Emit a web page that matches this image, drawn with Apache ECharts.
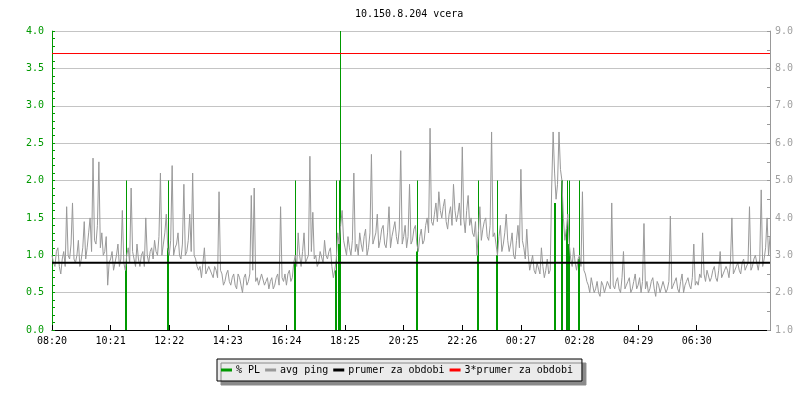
<!DOCTYPE html>
<html>
<head>
<meta charset="utf-8">
<script src="https://cdn.jsdelivr.net/npm/echarts@6/dist/echarts.min.js"></script>
<style>html,body{margin:0;padding:0;background:#fff}#c{width:800px;height:400px}</style>
</head>
<body>
<div id="c"></div>
<script>
// ---- data ----
const titleText = '10.150.8.204 vcera';
const tickLabels = ['08:20','10:21','12:22','14:23','16:24','18:25','20:25','22:26','00:27','02:28','04:29','06:30'];
const samplesPerTick = 40;
// avg ping (right axis), one value per sample
const pingValues = [
  3.0,2.8, 2.7,3.1, 3.2,2.7, 2.5,2.9, 3.1,2.7, 4.3,3.0, 2.9,3.3, 4.4,2.9, 2.8,3.0, 3.4,2.7,
  2.9,3.2, 3.9,2.9, 3.2,3.6, 4.0,3.1, 5.6,3.4, 3.3,3.8, 5.5,3.2, 3.6,3.0, 3.1,3.5, 2.2,2.8,
  2.9,3.1, 2.6,2.8, 3.0,3.3, 2.7,2.9, 4.2,2.8, 2.6,3.0, 3.2,2.8, 4.8,3.1, 2.9,2.7, 3.3,2.9,
  2.7,3.0, 3.1,2.7, 4.0,3.0, 2.8,3.1, 3.2,2.9, 3.4,3.1, 3.0,3.5, 5.2,3.0, 3.3,3.6, 4.1,3.2,
  3.0,3.4, 5.4,3.0, 3.2,3.3, 3.6,3.0, 2.9,3.3, 4.9,3.0, 3.1,3.4, 4.1,3.1, 5.2,3.0, 2.9,2.7,
  2.6,2.7, 2.4,2.8, 3.2,2.5, 2.5,2.7, 2.7,2.5, 2.4,2.7, 2.6,2.4, 4.7,2.6, 2.5,2.2, 2.3,2.5,
  2.6,2.3, 2.2,2.4, 2.5,2.2, 2.1,2.5, 2.4,2.2, 2.0,2.4, 2.5,2.2, 2.3,2.5, 4.6,2.6, 4.8,2.3,
  2.4,2.2, 2.2,2.5, 2.5,2.2, 2.3,2.4, 2.1,2.3, 2.4,2.1, 2.2,2.4, 2.5,2.2, 4.3,2.4, 2.3,2.5,
  2.2,2.5, 2.6,2.3, 2.4,2.8, 3.0,2.7, 3.6,3.0, 2.7,3.1, 3.6,2.8, 2.9,3.0, 5.65,3.1, 4.15,2.9,
  3.0,2.7, 2.8,3.1, 3.1,2.8, 3.4,3.0, 2.9,3.1, 3.2,2.7, 2.4,2.6, 2.9,3.6, 3.3,3.8, 4.2,3.4,
  3.2,3.0, 3.5,3.2, 3.0,3.4, 5.2,3.1, 3.3,3.0, 3.6,3.3, 3.1,3.5, 3.7,3.0, 3.2,3.6, 5.7,3.3,
  3.3,3.6, 4.1,3.2, 3.4,3.7, 3.8,3.3, 3.2,3.6, 4.3,3.2, 3.5,3.7, 3.9,3.5, 3.3,3.7, 5.8,3.3,
  3.5,3.8, 3.2,3.5, 4.9,3.3, 3.4,3.7, 3.8,3.3, 3.1,3.5, 3.7,3.3, 3.4,3.8, 4.0,3.6, 6.4,3.9,
  3.8,4.1, 4.4,3.9, 4.7,4.2, 4.0,4.3, 4.5,3.9, 3.7,4.1, 4.3,3.8, 4.9,4.2, 3.9,4.1, 4.4,3.8,
  5.9,4.0, 3.6,4.2, 4.6,3.8, 4.0,3.6, 3.5,3.9, 3.0,3.6, 4.3,3.4, 3.7,3.9, 4.0,3.5, 3.4,3.8,
  6.3,3.5, 3.6,3.3, 3.0,3.5, 3.8,3.1, 3.3,3.6, 4.1,3.4, 3.1,3.3, 3.6,3.0, 2.9,3.4, 3.8,3.2,
  5.3,3.4, 3.2,2.9, 3.7,3.0, 2.6,2.8, 3.0,2.6, 2.5,2.8, 2.8,2.5, 3.2,2.7, 2.4,2.6, 2.9,2.5,
  2.6,4.8, 6.3,5.2, 4.5,4.9, 6.3,5.3, 5.0,4.0, 3.4,3.7, 4.1,3.3, 2.9,2.7, 3.2,2.8, 2.6,2.9,
  3.0,2.7, 4.7,2.6, 2.5,2.3, 2.2,2.0, 2.4,2.2, 2.0,2.1, 2.3,2.0, 1.9,2.3, 2.2,2.0, 2.0,2.3,
  2.3,2.1, 4.4,2.2, 2.1,2.3, 2.4,2.1, 2.0,2.4, 3.1,2.1, 2.2,2.3, 2.4,2.0, 2.1,2.3, 2.5,2.1,
  2.2,2.4, 2.0,2.3, 3.85,2.1, 2.3,2.0, 2.1,2.3, 2.4,2.1, 1.9,2.3, 2.2,2.0, 2.0,2.3, 2.3,2.0,
  2.1,2.3, 4.05,2.1, 2.2,2.3, 2.4,2.1, 2.0,2.3, 2.5,2.0, 2.2,2.3, 2.4,2.2, 2.1,2.4, 3.3,2.2,
  2.3,2.2, 2.5,2.4, 3.6,2.5, 2.3,2.6, 2.6,2.3, 2.4,2.6, 2.7,2.4, 2.3,2.6, 3.1,2.4, 2.5,2.6,
  2.7,2.6, 2.4,2.8, 4.0,2.5, 2.6,2.7, 2.8,2.6, 2.5,2.8, 2.9,2.6, 2.6,2.8, 4.3,2.6, 2.7,2.9,
  3.0,2.8, 2.6,2.9, 4.75,2.7, 2.9,3.2, 4.0,3.0, 3.5
];
// packet loss events (sample position, % PL, left axis)
const plSample  = [50.8, 79.0, 165.6, 193.6, 196.0, 196.6, 249.4, 290.4, 303.6, 343.2, 348.0, 351.4, 352.6, 359.4];
const plPercent = [2.0,  2.0,  2.0,   2.0,   2.0,   4.0,   2.0,   2.0,   2.0,   1.7,   2.0,   2.0,   2.0,   2.0];
const meanPing = 2.8;
const leftMin = 0, leftMax = 4, rightMin = 1, rightMax = 9;

// ---- derived ----
const lastSample = pingValues.length - 1;
const pingData = pingValues.map((v, i) => [i, v]);
const toLeft = r => leftMin + (r - rightMin) * (leftMax - leftMin) / (rightMax - rightMin);
const plData = plSample.map((s, k) => {
  const p = Math.min(pingValues[Math.floor(s)], pingValues[Math.ceil(s)]);
  return [s, plPercent[k], Math.min(plPercent[k], toLeft(p))];
});
const tickPositions = tickLabels.map((_, k) => k * samplesPerTick);

const GREEN = '#009900', GRAY = '#999999', FONT = 'DejaVu Sans Mono';

const chart = echarts.init(document.getElementById('c'), null, {renderer: 'canvas'});
chart.setOption({
  animation: false,
  backgroundColor: '#ffffff',
  title: {
    text: titleText, left: 355, top: 9, padding: 0,
    textStyle: {fontFamily: FONT, fontSize: 10, fontWeight: 'normal', color: '#000'}
  },
  grid: {left: 52, right: 30, top: 31.1, bottom: 70},
  legend: {
    left: 217, top: 359, orient: 'horizontal',
    padding: [6, 9, 6, 4], itemGap: 5, itemWidth: 11, itemHeight: 3,
    icon: 'rect',
    backgroundColor: '#ebebeb', borderColor: '#000', borderWidth: 1,
    shadowColor: '#8a8a8a', shadowOffsetX: 4, shadowOffsetY: 4, shadowBlur: 0,
    textStyle: {fontFamily: FONT, fontSize: 10, color: '#000', padding: [0, 0, 0, -1]},
    data: ['% PL', 'avg ping', 'prumer za obdobi', '3*prumer za obdobi']
  },
  xAxis: {
    type: 'value', min: 0, max: lastSample,
    axisLine: {onZero: false, lineStyle: {color: '#000', width: 1}},
    axisTick: {inside: true, length: 5, customValues: tickPositions, lineStyle: {color: '#000'}},
    axisLabel: {
      customValues: tickPositions, margin: 6,
      formatter: v => tickLabels[Math.round(v / samplesPerTick)] || '',
      fontFamily: FONT, fontSize: 10, color: '#000'
    },
    splitLine: {show: false}
  },
  yAxis: [
    {
      type: 'value', position: 'left', min: leftMin, max: leftMax, interval: 0.5,
      axisLine: {show: true, lineStyle: {color: GREEN}},
      axisTick: {show: true, inside: true, length: 3, lineStyle: {color: GREEN}},
      minorTick: {show: true, splitNumber: 5, length: 3, lineStyle: {color: GREEN}},
      axisLabel: {formatter: v => v.toFixed(1), fontFamily: FONT, fontSize: 10, color: GREEN, margin: 8},
      splitLine: {show: true, lineStyle: {color: '#c4c4c4', width: 1}}
    },
    {
      type: 'value', position: 'right', min: rightMin, max: rightMax, interval: 1,
      axisLine: {show: true, lineStyle: {color: GRAY}},
      axisTick: {show: true, inside: true, length: 3, lineStyle: {color: GRAY}},
      minorTick: {show: true, splitNumber: 2, length: 3, lineStyle: {color: GRAY}},
      axisLabel: {formatter: v => v.toFixed(1), fontFamily: FONT, fontSize: 10, color: '#a0a0a0', margin: 5},
      splitLine: {show: false}
    }
  ],
  series: [
    {
      name: '% PL', type: 'custom', xAxisIndex: 0, yAxisIndex: 0, z: 2,
      color: GREEN, itemStyle: {color: GREEN},
      encode: {x: 0, y: 1},
      data: plData,
      renderItem: (params, api) => {
        const x = api.value(0), peak = api.value(1), thick = api.value(2);
        const p0 = api.coord([x, 0]);
        const p1 = api.coord([x, peak]);
        const p2 = api.coord([x, thick]);
        const rx = Math.round(p0[0]);
        return {
          type: 'group',
          children: [
            {type: 'rect', shape: {x: rx, y: p1[1], width: 1, height: p0[1] - p1[1]}, style: {fill: GREEN}},
            {type: 'rect', shape: {x: rx - 1, y: p2[1], width: 2, height: p0[1] - p2[1]}, style: {fill: GREEN}}
          ]
        };
      }
    },
    {
      name: 'avg ping', type: 'line', xAxisIndex: 0, yAxisIndex: 1, z: 3,
      color: GRAY, showSymbol: false, symbol: 'none',
      lineStyle: {color: GRAY, width: 1},
      data: pingData
    },
    {
      name: 'prumer za obdobi', type: 'line', xAxisIndex: 0, yAxisIndex: 1, z: 4,
      color: '#000', showSymbol: false, symbol: 'none',
      lineStyle: {color: '#000', width: 2},
      data: [[0, meanPing], [lastSample, meanPing]]
    },
    {
      name: '3*prumer za obdobi', type: 'line', xAxisIndex: 0, yAxisIndex: 1, z: 4,
      color: '#ff0000', showSymbol: false, symbol: 'none',
      lineStyle: {color: '#ff0000', width: 1},
      data: [[0, 3 * meanPing], [lastSample, 3 * meanPing]]
    }
  ]
});
</script>
</body>
</html>
